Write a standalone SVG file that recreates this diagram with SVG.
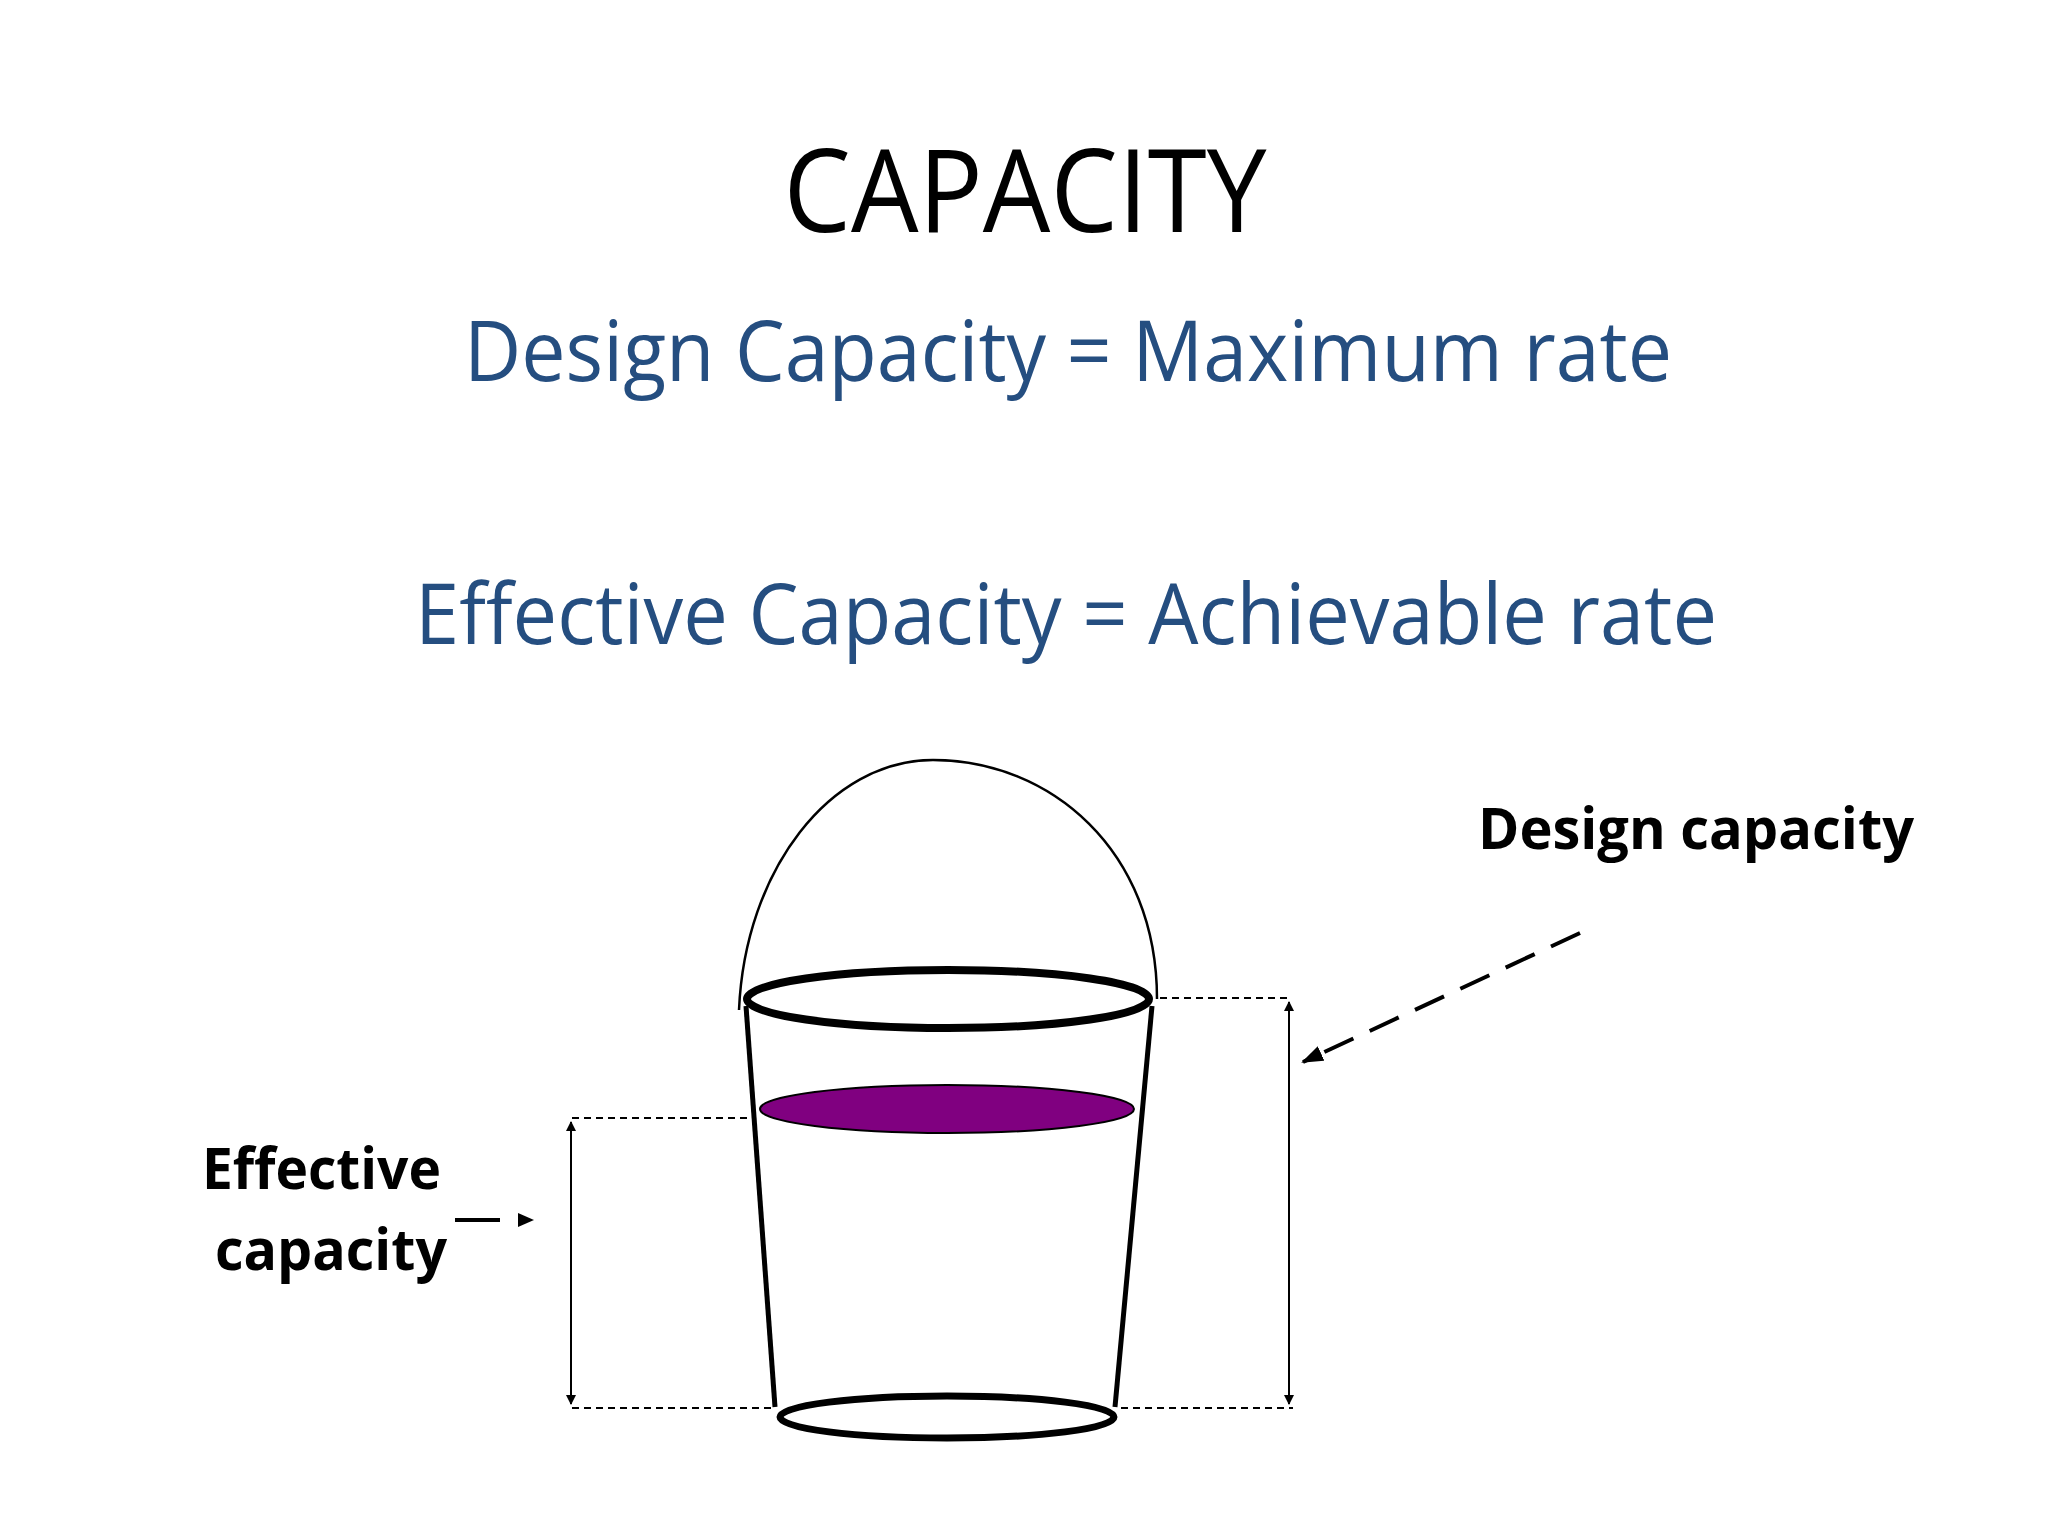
<svg xmlns="http://www.w3.org/2000/svg" width="2048" height="1536" viewBox="0 0 2048 1536">
<style>
.t{font-family:"Open Sans","Liberation Sans",sans-serif}
.blue{fill:#254e80}
.b{font-weight:bold;fill:#000}
.dash{stroke:#000;stroke-width:2;stroke-dasharray:7,5;fill:none}
.dim{stroke:#000;stroke-width:2;fill:none}
</style>
<defs>
<marker id="ah" markerWidth="10" markerHeight="10" refX="9" refY="5" orient="auto-start-reverse" markerUnits="userSpaceOnUse"><path d="M0,0 L10,5 L0,10 Z" fill="#000"/></marker>
<marker id="ah2" markerWidth="22" markerHeight="16" refX="20" refY="8" orient="auto" markerUnits="userSpaceOnUse"><path d="M0,0 L22,8 L0,16 Z" fill="#000"/></marker>
</defs>
<rect width="2048" height="1536" fill="#fff"/>
<g id="title"><text class="t" x="1025" y="232" font-size="116" text-anchor="middle" textLength="483" lengthAdjust="spacingAndGlyphs">CAPACITY</text></g>
<g id="line1"><text class="t blue" x="464" y="381" font-size="84" textLength="1208" lengthAdjust="spacingAndGlyphs">Design Capacity = Maximum rate</text></g>
<g id="line2"><text class="t blue" x="415" y="644" font-size="84" textLength="1302" lengthAdjust="spacingAndGlyphs">Effective Capacity = Achievable rate</text></g>
<g id="bucket">
<path d="M739,1010 C745,870 830,760 933,760 C1050,760 1157,850 1157,999" fill="none" stroke="#000" stroke-width="2.5"/>
<line x1="746" y1="1006" x2="775" y2="1407" stroke="#000" stroke-width="5"/>
<line x1="1152" y1="1006" x2="1115" y2="1407" stroke="#000" stroke-width="5"/>
<ellipse cx="948" cy="999" rx="201" ry="29" fill="#fff" stroke="#000" stroke-width="8"/>
<ellipse cx="947" cy="1417" rx="167" ry="21" fill="#fff" stroke="#000" stroke-width="7"/>
<ellipse id="level" cx="947" cy="1109" rx="187" ry="24" fill="#800080" stroke="#000" stroke-width="2"/>
</g>
<g id="connectors">
<line class="dash" x1="1160" y1="998" x2="1287" y2="998"/>
<line class="dash" x1="1121" y1="1408" x2="1293" y2="1408"/>
<line class="dash" x1="572" y1="1408" x2="771" y2="1408"/>
<line class="dash" x1="572" y1="1118" x2="747" y2="1118"/>
<line class="dim" x1="1289" y1="1002" x2="1289" y2="1404" marker-start="url(#ah)" marker-end="url(#ah)"/>
<line class="dim" x1="571" y1="1122" x2="571" y2="1404" marker-start="url(#ah)" marker-end="url(#ah)"/>
<line x1="1580" y1="933" x2="1303" y2="1062" stroke="#000" stroke-width="4" stroke-dasharray="32,18" marker-end="url(#ah2)"/>
<line x1="455" y1="1220" x2="500" y2="1220" stroke="#000" stroke-width="4"/>
<path d="M518,1213 L534,1220 L518,1227 Z" fill="#000"/>
</g>
<g id="design-label"><text class="t b" x="1478" y="849" font-size="58" textLength="436" lengthAdjust="spacingAndGlyphs">Design capacity</text></g>
<g id="effective-label">
<text class="t b" x="202" y="1189" font-size="58" textLength="239" lengthAdjust="spacingAndGlyphs">Effective</text>
<text class="t b" x="215" y="1270" font-size="58" textLength="232" lengthAdjust="spacingAndGlyphs">capacity</text>
</g>
</svg>
